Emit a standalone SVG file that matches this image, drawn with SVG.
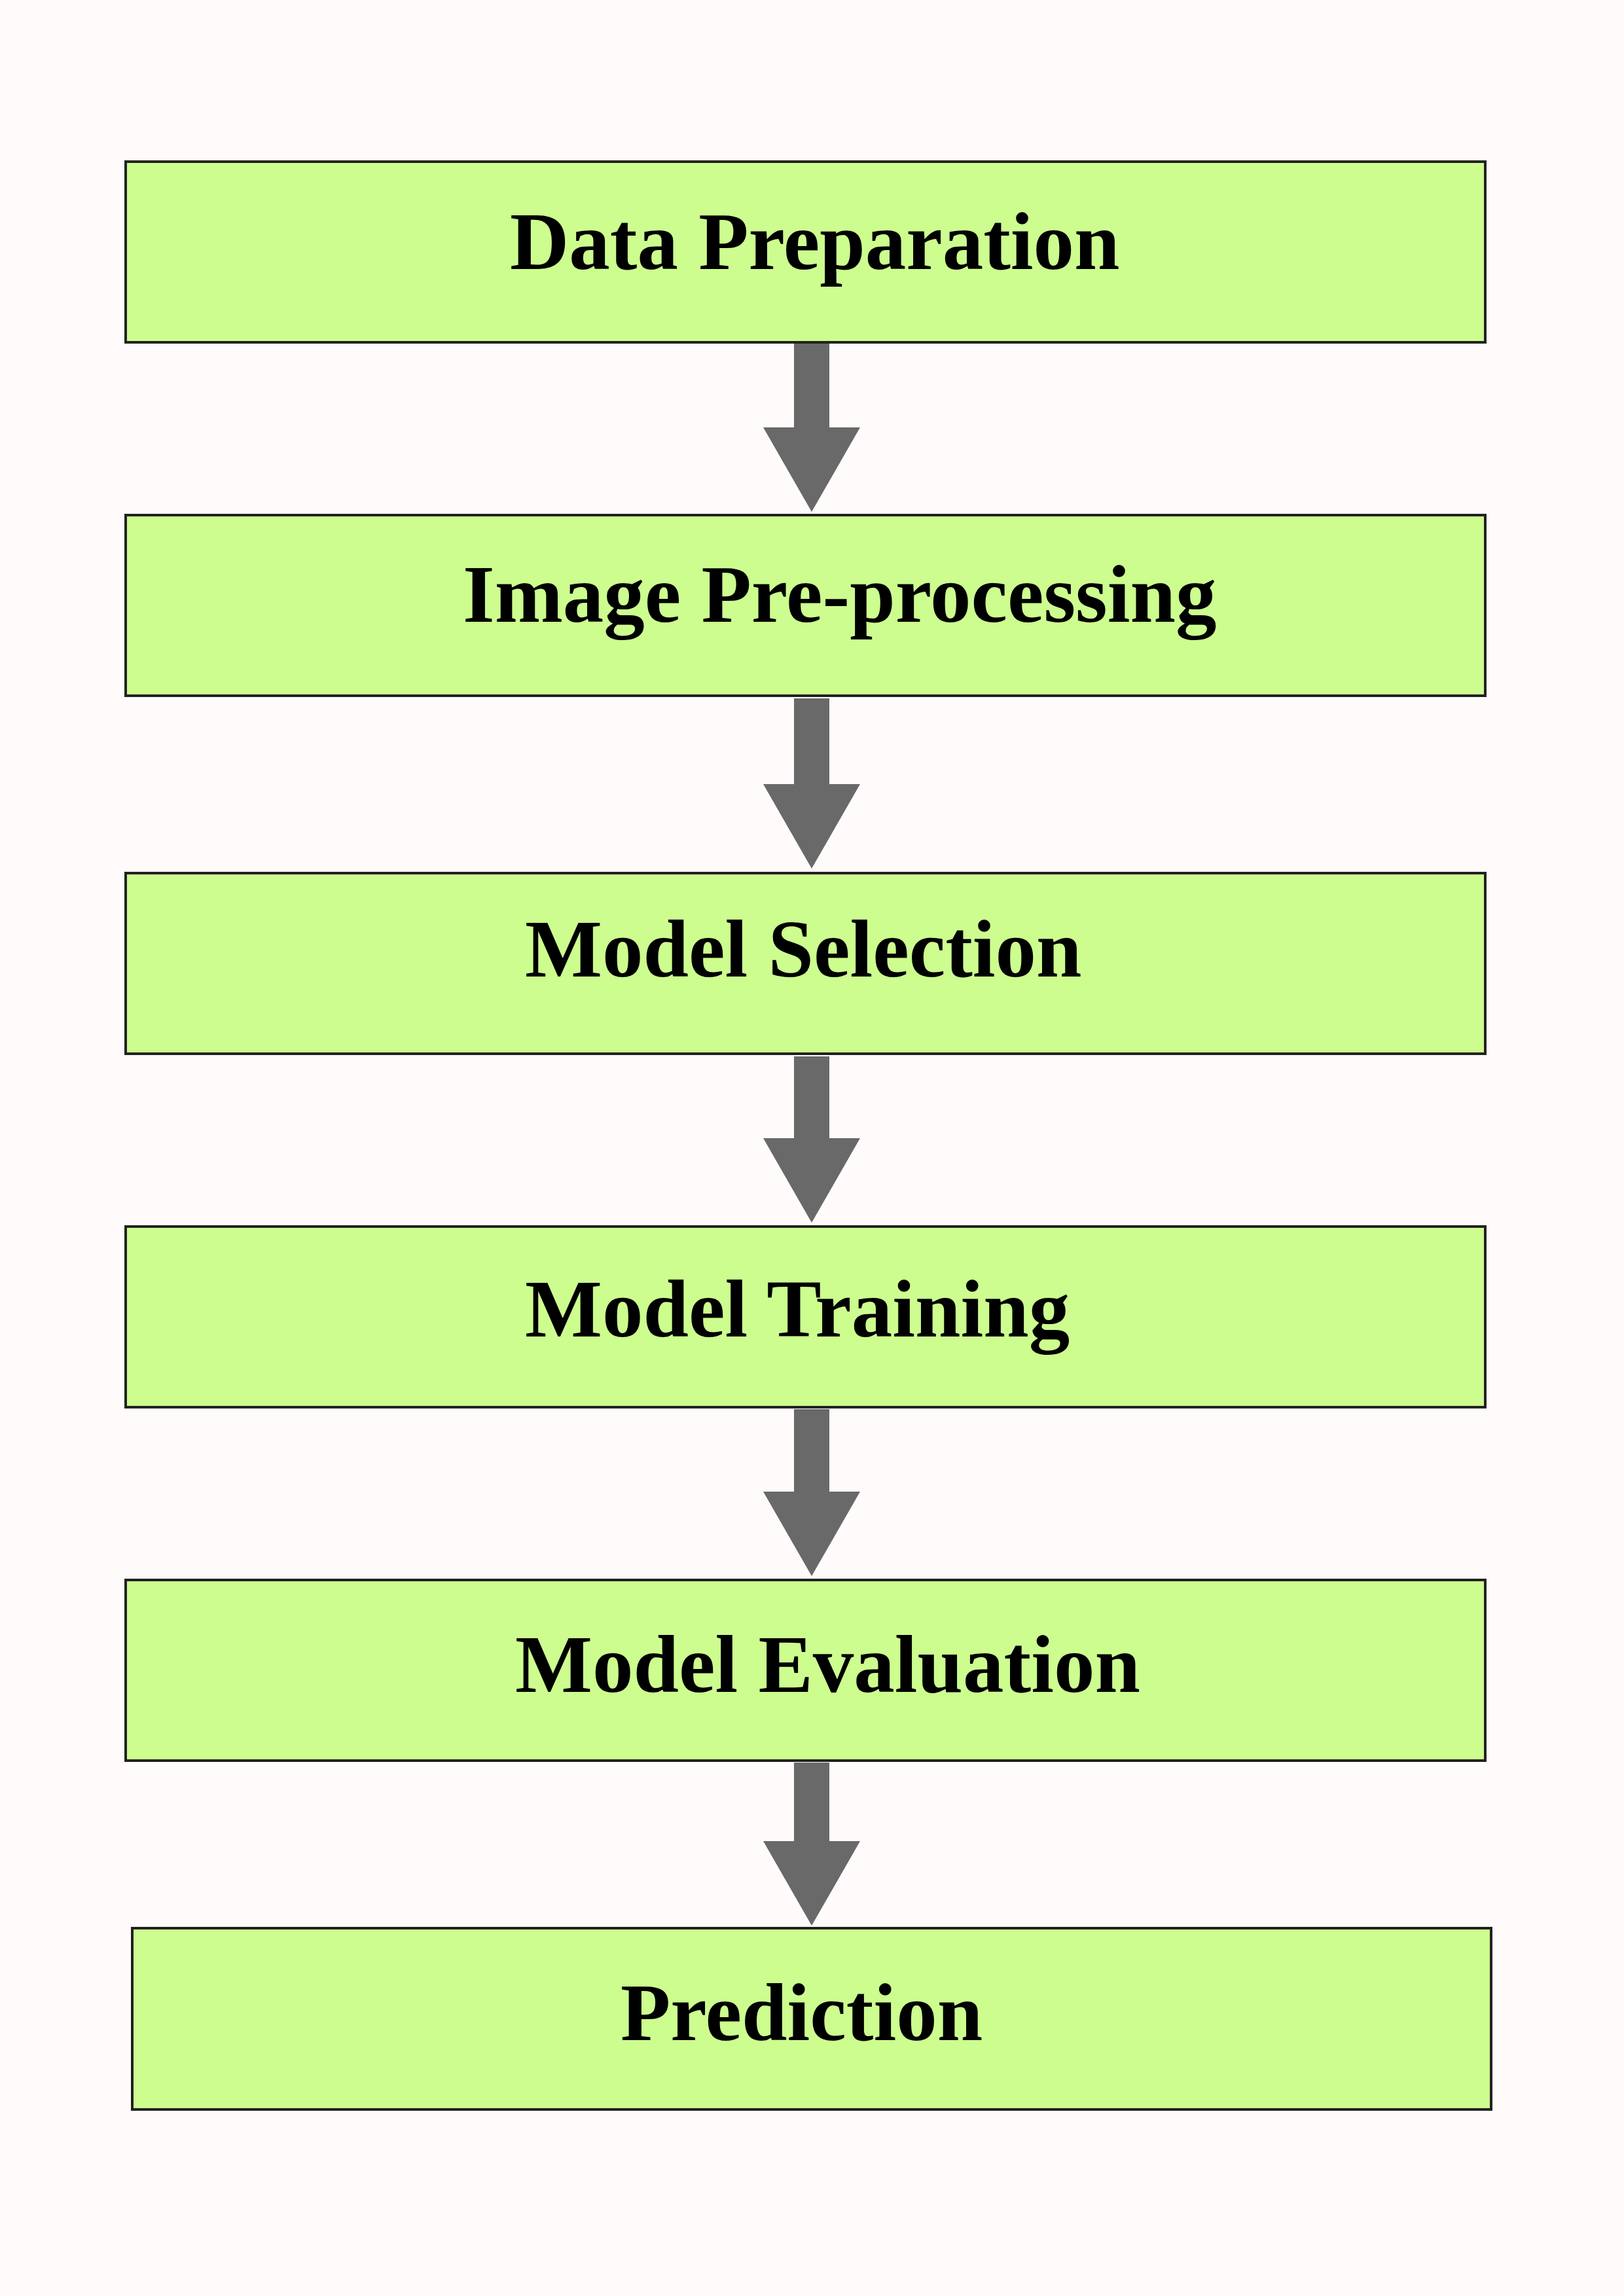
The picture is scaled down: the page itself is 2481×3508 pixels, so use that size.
<svg xmlns="http://www.w3.org/2000/svg" width="2481" height="3508" viewBox="0 0 2481 3508">
<style>
.box{fill:#cdfd8f;stroke:#222222;stroke-width:4}
.lbl{font-family:"Liberation Serif","Times New Roman",serif;font-weight:bold;font-size:125px;fill:#000000}
.arr{fill:#696969;stroke:none}
</style>
<rect x="0" y="0" width="2481" height="3508" fill="#fffbfb"/>
<g id="connectors">
<polygon class="arr" points="1213,525 1267,525 1267,653 1314,653 1240,782 1166,653 1213,653"/>
<polygon class="arr" points="1213,1067 1267,1067 1267,1198 1314,1198 1240,1327 1166,1198 1213,1198"/>
<polygon class="arr" points="1213,1614 1267,1614 1267,1739 1314,1739 1240,1868 1166,1739 1213,1739"/>
<polygon class="arr" points="1213,2153 1267,2153 1267,2279 1314,2279 1240,2408 1166,2279 1213,2279"/>
<polygon class="arr" points="1213,2693 1267,2693 1267,2813 1314,2813 1240,2942 1166,2813 1213,2813"/>
</g>
<g id="node-data-preparation">
<rect class="box" x="192" y="247" width="2077" height="276"/>
<text class="lbl" x="779" y="411">Data Preparation</text>
</g>
<g id="node-image-preprocessing">
<rect class="box" x="192" y="787" width="2077" height="276"/>
<text class="lbl" x="707" y="950">Image Pre-processing</text>
</g>
<g id="node-model-selection">
<rect class="box" x="192" y="1334" width="2077" height="276"/>
<text class="lbl" x="802" y="1492">Model Selection</text>
</g>
<g id="node-model-training">
<rect class="box" x="192" y="1874" width="2077" height="276"/>
<text class="lbl" x="802" y="2042">Model Training</text>
</g>
<g id="node-model-evaluation">
<rect class="box" x="192" y="2414" width="2077" height="276"/>
<text class="lbl" x="787" y="2585">Model Evaluation</text>
</g>
<g id="node-prediction">
<rect class="box" x="202" y="2946" width="2076" height="277"/>
<text class="lbl" x="948" y="3117">Prediction</text>
</g>
</svg>
